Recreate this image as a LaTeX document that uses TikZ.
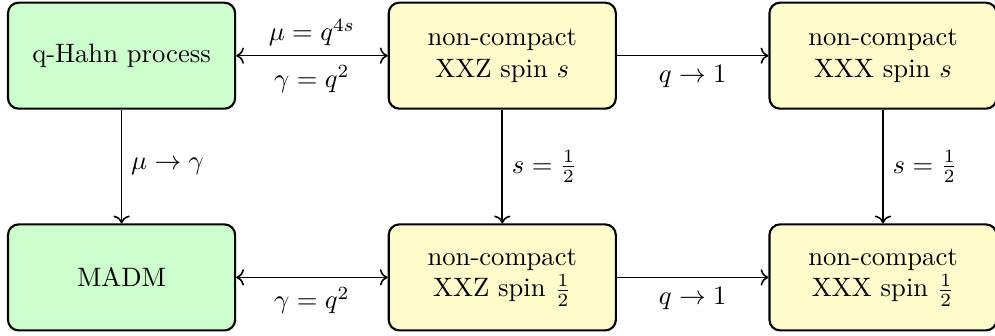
\documentclass[tikz,border=0pt]{standalone}
\usepackage{amsmath,amssymb}
\usepackage{xcolor}
\usepackage{tikz}
\usetikzlibrary{arrows.meta, positioning}

\begin{document}
\begin{tikzpicture}[
  model/.style = {
    draw, thick, rounded corners=4pt, fill=#1,
    minimum width=3cm, minimum height=1.4cm,
    align=center
  },
  arr/.style = {->, semithick},
  dbl/.style = {<->, semithick},
  node distance = 1.5cm and 2cm
]

\useasboundingbox (-1.5cm-3pt,-3.6cm-2.6pt) rectangle (11.5cm+1pt,0.7cm+1pt);

\node[model=green!20] (qhahn) {q-Hahn process};
\node[model=yellow!20, right=of qhahn] (xxzs) {non-compact\\XXZ spin $s$};
\node[model=yellow!20, right=of xxzs] (xxxs) {non-compact\\XXX spin $s$};

\node[model=green!20, below=of qhahn] (madm) {MADM};
\node[model=yellow!20, below=of xxzs] (xxzh) {non-compact\\XXZ spin $\frac{1}{2}$};
\node[model=yellow!20, below=of xxxs] (xxxh) {non-compact\\XXX spin $\frac{1}{2}$};

\draw[dbl] (qhahn) -- node[above]{$\mu = q^{4s}$} node[below]{$\gamma = q^2$} (xxzs);
\draw[arr] (xxzs) -- node[below]{$q \to 1$} (xxxs);
\draw[dbl] (madm) -- node[below]{$\gamma = q^2$} (xxzh);
\draw[arr] (xxzh) -- node[below]{$q \to 1$} (xxxh);

\draw[arr] (qhahn) -- node[right]{$\mu \to \gamma$} (madm);
\draw[arr] (xxzs) -- node[right]{$s = \frac{1}{2}$} (xxzh);
\draw[arr] (xxxs) -- node[right]{$s = \frac{1}{2}$} (xxxh);

\end{tikzpicture}
\end{document}
